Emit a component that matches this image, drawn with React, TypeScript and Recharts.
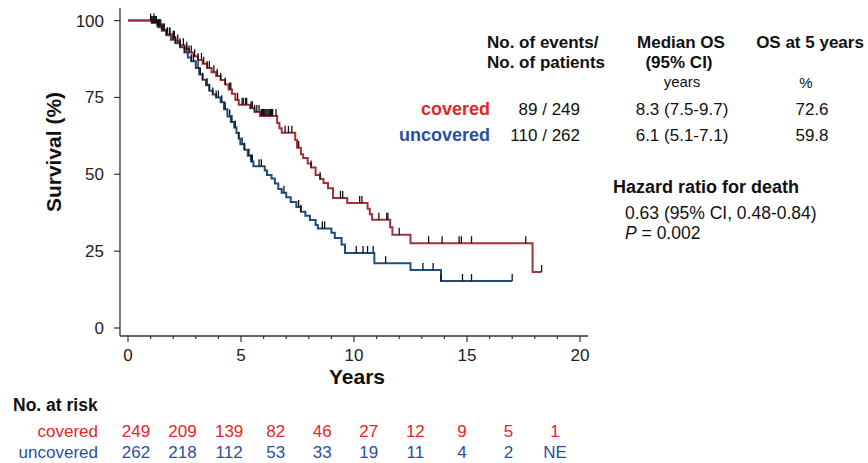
import React from 'react';
import { LineChart, Line, XAxis, YAxis, Scatter } from 'recharts';

// Kaplan-Meier step points [years, survival %]
const coveredSteps: [number, number][] = [
  [0, 100], [1.05, 99.2], [1.3, 98.2], [1.5, 96.8], [1.7, 95.6], [1.9, 94.4], [2.1, 93.2], [2.3, 92],
  [2.5, 90.8], [2.7, 89.6], [2.9, 88.4], [3.1, 87.2], [3.3, 86], [3.5, 84.6], [3.7, 83.2], [3.9, 82],
  [4.1, 80.7], [4.3, 79.2], [4.45, 77.6], [4.6, 76.2], [4.75, 74.2], [4.9, 72.6], [5.4, 71.5], [5.6, 70.3],
  [5.84, 69], [6.6, 66.7], [6.7, 65], [6.8, 63.5], [7.4, 61.2], [7.48, 58.6], [7.65, 56.5], [7.75, 55.3],
  [7.95, 53.5], [8.1, 52.2], [8.3, 49.8], [8.5, 48.5], [8.65, 47.2], [8.85, 45.5], [9.07, 42.3], [9.7, 40.7],
  [10.6, 38.8], [10.7, 37], [10.8, 35.2], [11.6, 32.8], [11.7, 30.3], [12.5, 27.6], [17.9, 18.2], [18.3, 18.2],
];
const uncoveredSteps: [number, number][] = [
  [0, 100], [1.2, 99.2], [1.35, 97.8], [1.5, 96.8], [1.7, 95.2], [1.9, 93.8], [2.1, 92.6], [2.3, 91.3],
  [2.5, 89.6], [2.65, 88], [2.8, 86.8], [3.0, 84.6], [3.15, 82.5], [3.3, 80.8], [3.45, 79], [3.6, 77.2],
  [3.75, 76], [3.9, 75], [4.1, 73.4], [4.25, 71.2], [4.4, 68.8], [4.55, 67], [4.7, 65.2], [4.8, 63.4],
  [4.9, 61.6], [4.97, 59.8], [5.15, 58], [5.3, 56], [5.45, 54.2], [5.55, 52.6], [6.05, 51.2], [6.15, 49.8],
  [6.35, 48.6], [6.5, 47], [6.65, 45.2], [6.8, 44], [7.0, 42.5], [7.2, 41], [7.45, 39.4], [7.65, 37.8],
  [7.85, 36.5], [8.05, 35.1], [8.3, 33.5], [8.4, 32.4], [9.0, 31], [9.15, 29.3], [9.45, 27.2], [9.6, 24.4],
  [10.9, 21.1], [12.5, 18.9], [13.85, 15.3], [17.0, 15.3],
];

// Censoring times (years)
const coveredCensored: number[] = [
  1.0, 1.05, 1.1, 1.15, 1.2, 1.25, 1.3, 1.35, 1.4, 1.45, 1.55, 1.6, 1.75, 1.85, 2.0, 2.05, 2.2, 2.3, 2.45, 2.6,
  2.7, 2.8, 2.95, 3.1, 3.25, 3.35, 3.5, 3.6, 3.8, 3.95, 4.1, 4.3, 4.5, 4.55, 4.85, 5.05, 5.1, 5.2, 5.25, 5.45,
  5.5, 5.6, 5.7, 5.8, 5.9, 5.95, 6.0, 6.05, 6.1, 6.15, 6.2, 6.25, 6.3, 6.35, 6.4, 6.55, 6.95, 7.1, 7.25, 7.55,
  8.1, 8.5, 9.4, 9.5, 10.25, 10.35, 11.1, 11.45, 11.5, 12.0, 13.3, 13.9, 14.65, 14.75, 15.2, 17.6, 18.3,
];
const uncoveredCensored: number[] = [
  1.15, 1.25, 1.35, 1.5, 1.6, 1.7, 1.85, 2.0, 2.1, 2.3, 2.5, 2.6, 2.8, 2.9, 3.1, 3.2, 3.3, 3.5, 3.6, 3.75,
  3.9, 4.0, 4.15, 4.3, 4.5, 4.6, 4.75, 4.9, 5.05, 5.15, 5.35, 5.45, 5.5, 5.8, 5.9, 6.9, 7.55, 7.65, 8.6, 8.7,
  10.1, 10.4, 10.6, 10.85, 11.4, 13.05, 13.5, 13.85, 14.8, 15.2, 17.0,
];

const xTicks = [0, 1, 2, 3, 4, 5, 6, 7, 8, 9, 10, 11, 12, 13, 14, 15, 16, 17, 18, 19, 20];
const yTicks = [0, 25, 50, 75, 100];
const riskTimes = [0, 2, 4, 6, 8, 10, 12, 14, 16, 18];
const coveredAtRisk = ['249', '209', '139', '82', '46', '27', '12', '9', '5', '1'];
const uncoveredAtRisk = ['262', '218', '112', '53', '33', '19', '11', '4', '2', 'NE'];

const RED_LINE = '#a4303c';
const BLUE_LINE = '#1f4c7b';
const RED_TXT = '#e2262b';
const BLUE_TXT = '#2a4fa0';
const FONT = '"Liberation Sans", Arial, Helvetica, sans-serif';

const stepAt = (steps: [number, number][], t: number) => {
  let v = steps[0][1];
  for (const [tt, s] of steps) if (tt <= t) v = s;
  return v;
};

const coveredData = coveredSteps.map(([t, s]) => ({ t, s }));
const uncoveredData = uncoveredSteps.map(([t, s]) => ({ t, s }));
const coveredCensorData = coveredCensored.map((t) => ({ t, s: stepAt(coveredSteps, t) }));
const uncoveredCensorData = uncoveredCensored.map((t) => ({ t, s: stepAt(uncoveredSteps, t) }));

const xDomain: [number, number] = [-0.354, 20.354];
const riskDomain: [number, number] = [-0.687, 19.416];
const yDomain: [number, number] = [-2.6, 104.1];

const XTick = (p: any) => {
  const v = p.payload.value;
  const major = v % 5 === 0;
  return (
    <g>
      <line x1={p.x} x2={p.x} y1={p.y} y2={p.y + (major ? 6 : 3)} stroke="#333" strokeWidth={1.2} />
      {major && (
        <text x={p.x} y={p.y + 25} textAnchor="middle" fontSize={17} fill="#222" fontFamily={FONT}>
          {v}
        </text>
      )}
    </g>
  );
};

const YTick = (p: any) => (
  <g>
    <line x1={p.x - 6} x2={p.x} y1={p.y} y2={p.y} stroke="#333" strokeWidth={1.2} />
    <text x={p.x - 16} y={p.y + 6} textAnchor="end" fontSize={17} fill="#222" fontFamily={FONT}>
      {p.payload.value}
    </text>
  </g>
);

const makeRiskTick = (labels: string[], baseline: number, color: string) => (p: any) => {
  const i = riskTimes.indexOf(p.payload.value);
  return (
    <text x={p.x} y={baseline} textAnchor="middle" fontSize={17} fill={color} fontFamily={FONT}>
      {i >= 0 ? labels[i] : ''}
    </text>
  );
};

const CensorMark = (p: any) => {
  if (p.cx == null || p.cy == null) return null;
  return <line x1={p.cx} x2={p.cx} y1={p.cy - 7} y2={p.cy} stroke="#111" strokeWidth={1.3} />;
};

export default function App() {
  return (
    <div style={{ position: 'absolute', left: 0, top: 0, width: 868, height: 463, background: '#fff', fontFamily: FONT }}>
      <LineChart width={868} height={463} margin={{ top: 8, right: 280, bottom: 25, left: 60 }}>
        <XAxis
          type="number"
          dataKey="t"
          domain={xDomain}
          ticks={xTicks}
          interval={0}
          allowDataOverflow
          axisLine={{ stroke: '#333', strokeWidth: 1.3 }}
          tickLine={false}
          tickSize={0}
          tickMargin={0}
          height={40}
          tick={XTick}
        />
        <XAxis
          xAxisId="r1"
          type="number"
          dataKey="t"
          domain={riskDomain}
          ticks={riskTimes}
          interval={0}
          allowDataOverflow
          axisLine={false}
          tickLine={false}
          tickSize={0}
          tickMargin={0}
          height={40}
          tick={makeRiskTick(coveredAtRisk, 437, RED_TXT)}
        />
        <XAxis
          xAxisId="r2"
          type="number"
          dataKey="t"
          domain={riskDomain}
          ticks={riskTimes}
          interval={0}
          allowDataOverflow
          axisLine={false}
          tickLine={false}
          tickSize={0}
          tickMargin={0}
          height={22}
          tick={makeRiskTick(uncoveredAtRisk, 458, BLUE_TXT)}
        />
        <YAxis
          type="number"
          dataKey="s"
          domain={yDomain}
          ticks={yTicks}
          interval={0}
          allowDataOverflow
          width={60}
          axisLine={{ stroke: '#333', strokeWidth: 1.3 }}
          tickLine={false}
          tickSize={0}
          tickMargin={0}
          tick={YTick}
        />
        <Line data={uncoveredData} dataKey="s" type="stepAfter" stroke={BLUE_LINE} strokeWidth={2} dot={false} activeDot={false} isAnimationActive={false} />
        <Line data={coveredData} dataKey="s" type="stepAfter" stroke={RED_LINE} strokeWidth={2} dot={false} activeDot={false} isAnimationActive={false} />
        <Scatter data={uncoveredCensorData} dataKey="s" shape={CensorMark} isAnimationActive={false} />
        <Scatter data={coveredCensorData} dataKey="s" shape={CensorMark} isAnimationActive={false} />
      </LineChart>
      <svg width={868} height={463} style={{ position: 'absolute', left: 0, top: 0, pointerEvents: 'none' }} fontFamily={FONT}>
        <text x={61} y={152} transform="rotate(-90 61 152)" textAnchor="middle" fontSize={21} fontWeight="bold" fill="#111">
          Survival (%)
        </text>
        <text x={357} y={384} textAnchor="middle" fontSize={21} fontWeight="bold" fill="#111">Years</text>

        <text x={487} y={48} fontSize={17} fontWeight="bold" fill="#111">No. of events/</text>
        <text x={487} y={68} fontSize={17} fontWeight="bold" fill="#111">No. of patients</text>
        <text x={681} y={48} textAnchor="middle" fontSize={17} fontWeight="bold" fill="#111">Median OS</text>
        <text x={679} y={68} textAnchor="middle" fontSize={17} fontWeight="bold" fill="#111">(95% CI)</text>
        <text x={682} y={87} textAnchor="middle" fontSize={15} fill="#111">years</text>
        <text x={810} y={48} textAnchor="middle" fontSize={17} fontWeight="bold" fill="#111">OS at 5 years</text>
        <text x={806} y={88} textAnchor="middle" fontSize={15} fill="#111">%</text>

        <text x={490} y={115} textAnchor="end" fontSize={18} fontWeight="bold" fill={RED_TXT}>covered</text>
        <text x={580} y={115} textAnchor="end" fontSize={17} fill="#111">89 / 249</text>
        <text x={682} y={115} textAnchor="middle" fontSize={17} fill="#111">8.3 (7.5-9.7)</text>
        <text x={812} y={115} textAnchor="middle" fontSize={17} fill="#111">72.6</text>

        <text x={490} y={141} textAnchor="end" fontSize={18} fontWeight="bold" fill={BLUE_TXT}>uncovered</text>
        <text x={580} y={141} textAnchor="end" fontSize={17} fill="#111">110 / 262</text>
        <text x={682} y={141} textAnchor="middle" fontSize={17} fill="#111">6.1 (5.1-7.1)</text>
        <text x={812} y={141} textAnchor="middle" fontSize={17} fill="#111">59.8</text>

        <text x={613} y={193} fontSize={18} fontWeight="bold" fill="#111">Hazard ratio for death</text>
        <text x={625} y={219} fontSize={17.5} fill="#111">0.63 (95% CI, 0.48-0.84)</text>
        <text x={625} y={239} fontSize={17.5} fill="#111">
          <tspan fontStyle="italic">P</tspan> = 0.002
        </text>

        <text x={13} y={411} fontSize={17.5} fontWeight="bold" fill="#111">No. at risk</text>
        <text x={98} y={437} textAnchor="end" fontSize={17} fill={RED_TXT}>covered</text>
        <text x={98} y={458} textAnchor="end" fontSize={17} fill={BLUE_TXT}>uncovered</text>
      </svg>
    </div>
  );
}
